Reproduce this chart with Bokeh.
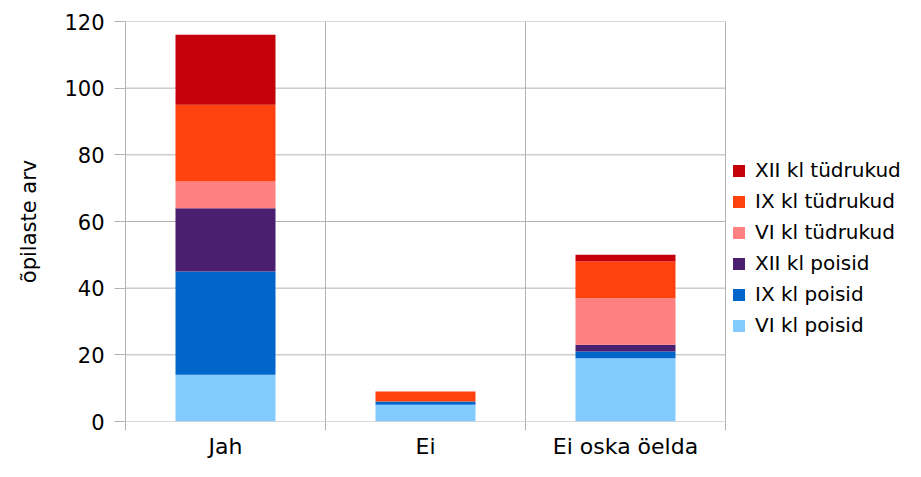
from bokeh.plotting import figure
from bokeh.models import (ColumnDataSource, Range1d, FixedTicker, Legend, LegendItem)
from bokeh.embed import file_html
from bokeh.resources import INLINE

categories = ["Jah", "Ei", "Ei oska öelda"]
vi_poisid = [14, 5, 19]
ix_poisid = [31, 1, 2]
xii_poisid = [19, 0, 2]
vi_tudrukud = [8, 0, 14]
ix_tudrukud = [23, 3, 11]
xii_tudrukud = [21, 0, 2]

series_names = ["VI kl poisid", "IX kl poisid", "XII kl poisid",
                "VI kl tüdrukud", "IX kl tüdrukud", "XII kl tüdrukud"]
series_keys = ["vi_p", "ix_p", "xii_p", "vi_t", "ix_t", "xii_t"]
colors = ["#83caff", "#0066cc", "#4b1f6f", "#ff8080", "#ff420e", "#c5000b"]
y_ticks = [0, 20, 40, 60, 80, 100, 120]

n_cat = len(categories)
x_centers = [i + 0.5 for i in range(n_cat)]
x_bounds = [i for i in range(n_cat + 1)]

src = ColumnDataSource(dict(
    x=x_centers,
    vi_p=vi_poisid, ix_p=ix_poisid, xii_p=xii_poisid,
    vi_t=vi_tudrukud, ix_t=ix_tudrukud, xii_t=xii_tudrukud,
))

FONT = "DejaVu Sans"
GRID = "#b3b3b3"

# frame extends right to leave room for the legend (drawn inside the frame)
p = figure(width=905, height=461, output_backend="svg", toolbar_location=None,
           x_range=Range1d(0, 3.9), y_range=Range1d(0, 120),
           min_border_left=125, min_border_top=21, min_border_right=0,
           min_border_bottom=0)
p.outline_line_color = None
p.background_fill_color = "white"
p.border_fill_color = "white"

# horizontal grid lines only across the category area
p.segment(x0=[0] * len(y_ticks), x1=[n_cat] * len(y_ticks), y0=y_ticks, y1=y_ticks,
          line_color=GRID, line_width=1, level="underlay")

renderers = p.vbar_stack(series_keys, x="x", width=0.5, color=colors, source=src,
                         line_color=None)

# axes
p.yaxis.ticker = FixedTicker(ticks=y_ticks, minor_ticks=[])
p.yaxis.axis_line_color = GRID
p.yaxis.major_tick_line_color = GRID
p.yaxis.major_tick_out = 11
p.yaxis.major_tick_in = 0
p.yaxis.minor_tick_line_color = None
p.yaxis.major_label_text_font = FONT
p.yaxis.major_label_text_font_size = "21px"
p.yaxis.major_label_text_color = "black"
p.yaxis.major_label_standoff = 10
p.yaxis.axis_label = "õpilaste arv"
p.yaxis.axis_label_text_font = FONT
p.yaxis.axis_label_text_font_size = "21px"
p.yaxis.axis_label_text_font_style = "normal"
p.yaxis.axis_label_text_color = "black"
p.yaxis.axis_label_standoff = 20

p.xaxis.ticker = FixedTicker(ticks=x_centers, minor_ticks=x_bounds)
p.xaxis.major_label_overrides = {x: c for x, c in zip(x_centers, categories)}
p.xaxis.axis_line_color = None
p.xaxis.major_tick_out = 0
p.xaxis.major_tick_in = 0
p.xaxis.major_tick_line_color = None
p.xaxis.minor_tick_line_color = GRID
p.xaxis.minor_tick_out = 9
p.xaxis.minor_tick_in = 0
p.xaxis.major_label_text_font = FONT
p.xaxis.major_label_text_font_size = "22px"
p.xaxis.major_label_text_color = "black"
p.xaxis.major_label_standoff = 3

p.xgrid.ticker = FixedTicker(ticks=x_bounds)
p.xgrid.grid_line_color = GRID
p.ygrid.grid_line_color = None

items = [LegendItem(label=n, renderers=[r]) for n, r in zip(series_names, renderers)]
items.reverse()
legend = Legend(items=items, location=(606, 84))
legend.border_line_color = None
legend.background_fill_alpha = 0
legend.padding = 0
legend.margin = 0
legend.spacing = 7
legend.glyph_width = 15
legend.glyph_height = 15
legend.label_standoff = 9
legend.label_text_font = FONT
legend.label_text_font_size = "20px"
legend.label_text_color = "black"
p.add_layout(legend)

open("out.html", "w").write(file_html(p, INLINE))
